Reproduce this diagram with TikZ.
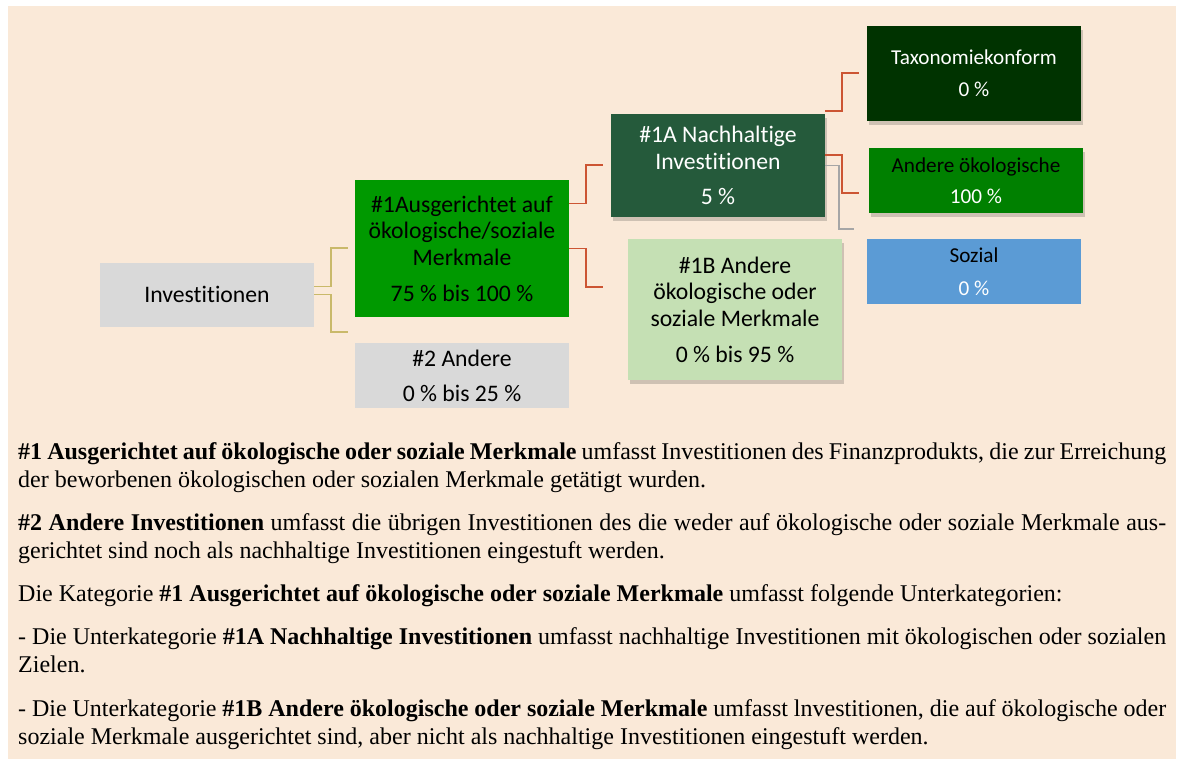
\documentclass[tikz,border=0pt]{standalone}
\usepackage{fontspec}
\setmainfont{Liberation Serif}
\newfontfamily\boxfont[Ligatures={NoCommon,NoContextual}]{Carlito}
\usetikzlibrary{shadows}
\definecolor{bg}{HTML}{FAE9D8}
\definecolor{lgray}{HTML}{D9D9D9}
\definecolor{gOne}{HTML}{009900}
\definecolor{gOneA}{HTML}{255A3B}
\definecolor{gOneB}{HTML}{C5E0B4}
\definecolor{gTax}{HTML}{003300}
\definecolor{gAnd}{HTML}{008000}
\definecolor{bSoz}{HTML}{5B9BD5}
\definecolor{cYel}{HTML}{C9B96A}
\definecolor{cRed}{HTML}{CC5533}
\definecolor{cGry}{HTML}{A6A6A6}
\begin{document}
\begin{tikzpicture}[x=1pt,y=-1pt,
  box/.style={rectangle, inner sep=0pt, minimum width=214pt, align=center,
    font=\boxfont\fontsize{23.7}{26.5}\selectfont},
  sbox/.style={box, font=\boxfont\fontsize{21.2}{24}\selectfont},
  shad/.style={drop shadow={shadow xshift=2pt, shadow yshift=-4pt, opacity=0.22, fill=black!80}},
  yconn/.style={draw=cYel, line width=1.5pt},
  rconn/.style={draw=cRed, line width=1.6pt},
  gconn/.style={draw=cGry, line width=1.5pt},
  ptext/.style={anchor=base west, inner sep=0pt, font=\fontsize{24}{28.5}\selectfont}]
\useasboundingbox (0,0) rectangle (1177,761);
\fill[bg] (8,6) rectangle (1176,759);

% boxes
\node[box, fill=lgray, minimum height=64pt] (inv) at (207,294.5) {Investitionen};
\node[box, fill=gOne, minimum height=137pt] (a1) at (462,248.5)
  {\#1Ausgerichtet auf\\ökologische/soziale\\Merkmale\\[9.5pt]75 \% bis 100 \%};
\node[box, fill=lgray, minimum height=65pt] (a2) at (462,375.5)
  {\#2 Andere\\[8.5pt]0 \% bis 25 \%};
\node[box, shad, fill=gOneA, text=white, minimum height=103pt] (a1A) at (718,165.5)
  {\#1A Nachhaltige\\Investitionen\\[8.5pt]5 \%};
\node[box, shad, fill=gOneB, minimum height=141pt] (a1B) at (735,309.5)
  {\#1B Andere\\ökologische oder\\soziale Merkmale\\[9.5pt]0 \% bis 95 \%};
\node[sbox, shad, fill=gTax, text=white, minimum height=95pt] (tax) at (974,73.5)
  {Taxonomiekonform\\[8pt]0 \%};
\node[sbox, shad, fill=gAnd, minimum height=65pt] (and) at (976,180.5)
  {Andere ökologische\\[7pt]\textcolor{white}{100 \%}};
\node[sbox, fill=bSoz, minimum height=65pt] (soz) at (974,271.5)
  {Sozial\\[9pt]\textcolor{white}{0 \%}};

% connector ends
\coordinate (e1) at (348,248);
\coordinate (e2) at (348,332);
\coordinate (e3) at (603,165);
\coordinate (e4) at (603,287);
\coordinate (e5) at (859,73);
\coordinate (e6) at (859,193);
\coordinate (e7) at (854,229);

\draw[yconn] ([yshift=8pt]inv.east) -- ++(17,0) |- (e1);
\draw[yconn] (inv.east) -- ++(17,0) |- (e2);
\draw[rconn] ([yshift=45pt]a1.east) -- ++(17,0) |- (e3);
\draw[rconn] (a1.east) -- ++(17,0) |- (e4);
\draw[gconn] (a1A.east) -- ++(14,0) |- (e7);
\draw[rconn] ([yshift=54.5pt]a1A.east) -- ++(17,0) |- (e5);
\draw[rconn] ([yshift=10.5pt]a1A.east) -- ++(17,0) |- (e6);

% text
\node[ptext] (p1a) at (18,459) {\makebox[1148pt][s]{\textbf{\#1 Ausgerichtet auf ökologische oder soziale Merkmale} umfasst Investitionen des Finanzprodukts, die zur Erreichung}};
\node[ptext] (p1b) at (18,487.5) {der beworbenen ökologischen oder sozialen Merkmale getätigt wurden.};
\node[ptext] (p2a) at (18,530) {\makebox[1148pt][s]{\textbf{\#2 Andere Investitionen} umfasst die übrigen Investitionen des die weder auf ökologische oder soziale Merkmale aus-}};
\node[ptext] (p2b) at (18,558.5) {gerichtet sind noch als nachhaltige Investitionen eingestuft werden.};
\node[ptext] (p3) at (18,601) {Die Kategorie \textbf{\#1 Ausgerichtet auf ökologische oder soziale Merkmale} umfasst folgende Unterkategorien:};
\node[ptext] (p4a) at (18,644) {\makebox[1148pt][s]{- Die Unterkategorie \textbf{\#1A Nachhaltige Investitionen} umfasst nachhaltige Investitionen mit ökologischen oder sozialen}};
\node[ptext] (p4b) at (18,672.5) {Zielen.};
\node[ptext] (p5a) at (18,716) {\makebox[1148pt][s]{- Die Unterkategorie \textbf{\#1B Andere ökologische oder soziale Merkmale} umfasst lnvestitionen, die auf ökologische oder}};
\node[ptext] (p5b) at (18,744) {soziale Merkmale ausgerichtet sind, aber nicht als nachhaltige Investitionen eingestuft werden.};
\end{tikzpicture}
\end{document}
